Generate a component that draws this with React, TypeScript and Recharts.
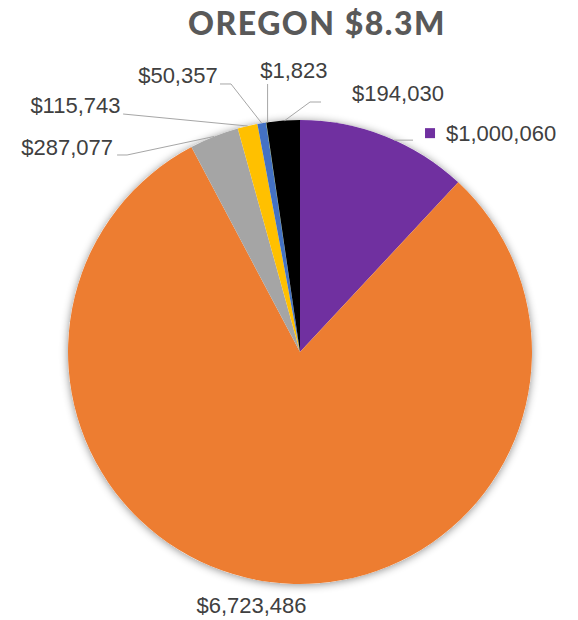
import React from "react";
import { PieChart, Pie, Cell } from "recharts";

const categories = ["Purple", "Orange", "Gray", "Yellow", "Blue", "Green", "Black"];
const values = [1000060, 6723486, 287077, 115743, 50357, 1823, 194030];
const labels = ["$1,000,060", "$6,723,486", "$287,077", "$115,743", "$50,357", "$1,823", "$194,030"];
const colors = ["#7030A0", "#ED7D31", "#A5A5A5", "#FFC000", "#4472C4", "#70AD47", "#000000"];
const title = "OREGON $8.3M";

const data = categories.map((name, i) => ({ name, value: values[i], label: labels[i] }));
const total = values.reduce((a, b) => a + b, 0);
const shadowData = [{ name: "all", value: total }];

// label layout relative to the slice's outer-edge midpoint
type Layout = {
  line: [number, number][];
  text: [number, number];
  anchor: "start" | "end" | "middle";
  marker?: [number, number];
};
const layouts: Layout[] = [
  { line: [[9, 4], [28, 4]], text: [61, 5], anchor: "start", marker: [40, -8] },
  { line: [], text: [-18, 31], anchor: "middle" },
  { line: [[0, 0], [-87, 18.5], [-97, 18.5]], text: [-101, 18.5], anchor: "end" },
  { line: [[0, 0], [-124.4, -12]], text: [-127, -13], anchor: "end" },
  { line: [[0, 0], [-30.7, -39.2], [-41.7, -39.2]], text: [-44, -40.2], anchor: "end" },
  { line: [[1.4, 0], [1.4, -38.5]], text: [-6, -44.5], anchor: "start" },
  { line: [[1.5, 0], [26.9, -18.6], [37.9, -18.6]], text: [69, -19.6], anchor: "start" },
];

const RAD = Math.PI / 180;

const renderLabel = (props: any) => {
  const { cx, cy, midAngle, outerRadius, index } = props;
  const ex = cx + outerRadius * Math.cos(-midAngle * RAD);
  const ey = cy + outerRadius * Math.sin(-midAngle * RAD);
  const L = layouts[index];
  const pts = L.line.map(([dx, dy]) => `${ex + dx},${ey + dy}`).join(" ");
  return (
    <g key={`lbl-${index}`}>
      {L.line.length > 0 && (
        <polyline points={pts} fill="none" stroke="#A6A6A6" strokeWidth={1} />
      )}
      {L.marker && (
        <rect x={ex + L.marker[0]} y={ey + L.marker[1]} width={10} height={10} fill={colors[index]} />
      )}
      <text
        x={ex + L.text[0]}
        y={ey + L.text[1]}
        textAnchor={L.anchor}
        fill="#404040"
        fontSize={22}
        fontFamily="'Liberation Sans', Arial, sans-serif"
      >
        {labels[index]}
      </text>
    </g>
  );
};

export default function App() {
  return (
    <div style={{ position: "absolute", left: 0, top: 0, width: 578, height: 620, background: "#fff" }}>
      <svg width={0} height={0} style={{ position: "absolute" }}>
        <defs>
          <filter id="pieShadow" x="-20%" y="-20%" width="140%" height="140%">
            <feDropShadow dx="0" dy="1" stdDeviation="4" floodColor="#000" floodOpacity="0.45" />
          </filter>
        </defs>
      </svg>
      <div
        style={{
          position: "absolute",
          left: 0,
          width: 634,
          top: 3,
          textAlign: "center",
          fontFamily: "Lato, 'Open Sans', sans-serif",
          fontWeight: 900,
          fontSize: 32,
          letterSpacing: 1.5,
          color: "#595959",
          lineHeight: "40px",
        }}
      >
        {title}
      </div>
      <PieChart
        width={578}
        height={620}
        margin={{ top: 0, right: 0, bottom: 0, left: 0 }}
        style={{ position: "absolute", left: 0, top: 0 }}
      >
        <Pie
          data={shadowData}
          dataKey="value"
          cx={300}
          cy={352}
          outerRadius={232}
          startAngle={90}
          endAngle={-270}
          isAnimationActive={false}
          stroke="none"
        >
          <Cell fill="#ffffff" filter="url(#pieShadow)" />
        </Pie>
        <Pie
          data={data}
          dataKey="value"
          nameKey="name"
          cx={300}
          cy={352}
          outerRadius={232}
          startAngle={90}
          endAngle={-270}
          isAnimationActive={false}
          stroke="none"
          label={renderLabel}
          labelLine={false}
        >
          {data.map((d, i) => (
            <Cell key={d.name} fill={colors[i]} />
          ))}
        </Pie>
      </PieChart>
    </div>
  );
}
